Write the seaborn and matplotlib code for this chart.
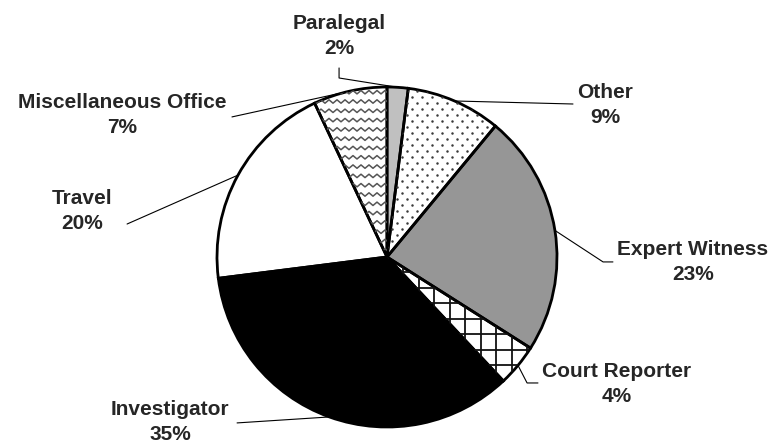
#Pie chart of litigation expenses by category
import numpy as np
import matplotlib
matplotlib.use('Agg')
import matplotlib.pyplot as plt
import seaborn as sns

sns.set_style('white')
plt.rcParams['font.family'] = ['Liberation Sans', 'DejaVu Sans']

#Data, clockwise from the top
categories = ['Paralegal', 'Other', 'Expert Witness', 'Court Reporter',
              'Investigator', 'Travel', 'Miscellaneous Office']
shares = [2, 9, 23, 4, 35, 20, 7]
fills = ['#c0c0c0', 'white', '#969696', 'white', 'black', 'white', 'white']
patterns = [None, 'dots', None, 'grid', None, None, 'wave']

#Label layout in pie units (radius = 1)
label_xy = [(-0.282, 1.30), (1.282, 0.894), (1.80, -0.029), (1.353, -0.747),
            (-1.276, -0.971), (-1.794, 0.271), (-1.559, 0.835)]
leader_start = [(-0.282, 1.112), (1.094, 0.90), (1.329, -0.029), (0.888, -0.741),
                (-0.882, -0.976), (-1.529, 0.194), (-0.912, 0.824)]
leader_elbow = [(-0.282, 1.053), None, (1.271, -0.029), (0.824, -0.741),
                None, None, None]

fig = plt.figure(figsize=(7.7, 4.45), dpi=100)
ax = fig.add_axes([217/770, 18/445, 340/770, 340/445])

wedges, _ = ax.pie(shares, colors=fills, startangle=90, counterclock=False,
                   radius=1, wedgeprops=dict(linewidth=0))

px = 1/170.0
for w, pat in zip(wedges, patterns):
    if pat == 'dots':
        xs, ys = [], []
        for i, y in enumerate(np.arange(-1, 1, 6*px)):
            off = 5*px if i % 2 else 0
            for x in np.arange(-1 + off, 1, 10*px):
                xs.append(x); ys.append(y)
        sc = ax.scatter(xs, ys, s=3.2, color='#3a3a3a', linewidths=0, zorder=2)
        sc.set_clip_path(w)
    elif pat == 'grid':
        for v in np.arange(-1, 1, 15.5*px):
            l1, = ax.plot([v, v], [-1, 1], color='#111111', lw=1.3, zorder=2)
            l2, = ax.plot([-1, 1], [v, v], color='#111111', lw=1.3, zorder=2)
            l1.set_clip_path(w); l2.set_clip_path(w)
    elif pat == 'wave':
        xw = np.arange(-1, 1, 4*px)
        zig = np.where(np.arange(len(xw)) % 2 == 0, 1.7*px, -1.7*px)
        for y in np.arange(-1, 1, 9.3*px):
            lw_, = ax.plot(xw, y + zig, color='#555555', lw=1.1, zorder=2)
            lw_.set_clip_path(w)

#Outlines on top
ax.pie(shares, colors=['none']*len(shares), startangle=90, counterclock=False,
       radius=1, wedgeprops=dict(linewidth=2.0, edgecolor='black', fill=False))

for w, name, val, lxy, st, el in zip(wedges, categories, shares, label_xy,
                                     leader_start, leader_elbow):
    mid = np.deg2rad((w.theta1 + w.theta2) / 2)
    edge = (np.cos(mid), np.sin(mid))
    pts = [st] + ([el] if el else []) + [edge]
    ax.plot([p[0] for p in pts], [p[1] for p in pts], color='black', lw=0.8,
            zorder=1, clip_on=False)
    ax.text(lxy[0], lxy[1], f'{name}\n{val}%', ha='center', va='center',
            fontsize=15, fontweight='bold', linespacing=1.35, clip_on=False)

ax.set_xlim(-1, 1)
ax.set_ylim(-1, 1)
ax.set_aspect('equal')
ax.axis('off')

fig.savefig('out.png', dpi=100)
